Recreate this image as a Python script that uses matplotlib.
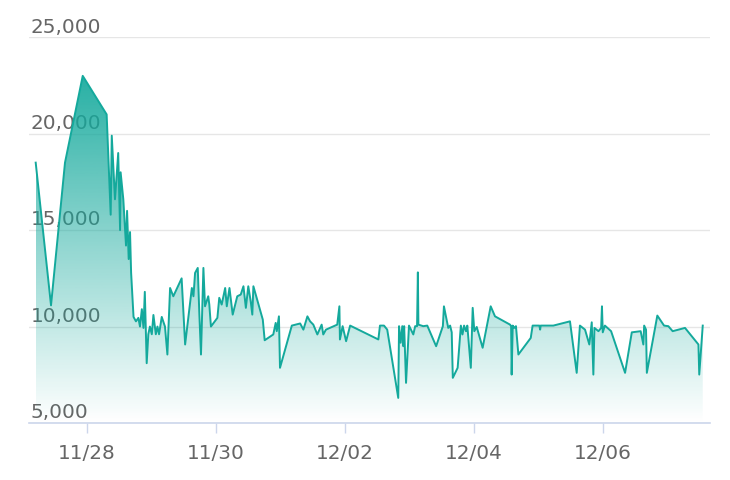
import numpy as np
import pandas as pd
import matplotlib
matplotlib.use("Agg")
import matplotlib.pyplot as plt
import matplotlib.dates as mdates

# hours since 2023-11-27 00:00, and the value at that time
hours = [4.9, 10.6, 15.8, 22.4, 31.3, 32.8, 33.2, 34.4, 35.6, 36.3, 36.5, 37.5,
         38.5, 38.9, 39.5, 40.0, 40.4, 41.3, 42.2, 43.1, 43.7, 44.4, 45.0, 45.5,
         46.2, 46.8, 47.4, 48.1, 48.7, 49.6, 50.2, 50.8, 51.8, 53.0, 53.9, 54.9,
         56.1, 59.2, 60.5, 63.0, 63.6, 64.2, 65.2, 65.8, 66.4, 67.3, 67.9, 69.1,
         69.5, 70.1, 72.5, 73.2, 74.1, 75.4, 76.0, 77.0, 78.2, 79.9, 81.2, 82.2,
         83.1, 84.0, 84.9, 85.5, 85.9, 89.4, 90.1, 93.3, 94.2, 94.6, 95.4, 95.8,
         100.2, 103.3, 104.5, 106.0, 107.0, 108.2, 109.7, 111.3, 111.9, 112.9,
         117.1, 117.9, 118.1, 119.1, 120.4, 121.9, 132.4, 133.0, 134.5, 135.7,
         139.8, 140.1, 140.7, 141.3, 141.7, 142.0, 142.7, 143.8, 145.4, 146.1,
         146.8, 147.1, 147.3, 149.1, 150.6, 153.9, 156.4, 156.8, 158.4, 159.1,
         159.7, 160.1, 161.9, 163.1, 163.7, 164.3, 165.0, 165.5, 166.8, 167.5,
         168.1, 169.0, 171.2, 174.2, 175.8, 181.4, 181.8, 182.0, 182.4, 183.0,
         183.6, 184.5, 189.1, 189.8, 192.3, 192.6, 192.8, 197.5, 203.7, 206.2,
         207.4, 209.3, 210.9, 211.8, 212.4, 212.8, 214.3, 215.3, 215.6, 215.9,
         216.7, 219.0, 224.2, 226.7, 230.0, 231.0, 231.3, 232.0, 232.3, 236.2,
         238.7, 240.3, 241.9, 246.5, 251.5, 251.8, 253.1]
values = [18500, 11100, 18500, 23000, 21000, 15800, 19900, 16600, 19000, 15000,
          18000, 16600, 14200, 16000, 13500, 14900, 12800, 10500, 10270, 10450,
          10000, 10900, 9930, 11800, 8100, 9600, 10000, 9600, 10600, 9600, 10000,
          9600, 10500, 10000, 8550, 12000, 11570, 12500, 9070, 12000, 11570, 12780,
          13040, 10620, 8550, 13040, 11050, 11570, 11140, 10000, 10450, 11490,
          11140, 12000, 11050, 12000, 10620, 11570, 11660, 12090, 10970, 12090,
          11310, 10620, 12090, 10360, 9290, 9590, 10190, 9760, 10530, 7860,
          10050, 10160, 9840, 10530, 10270, 10100, 9590, 10100, 9590, 9840,
          10100, 11050, 9330, 10020, 9240, 10050, 9330, 10050, 10050, 9840,
          6300, 10020, 9160, 10020, 8980, 10020, 7080, 10050, 9590, 10020,
          10020, 12810, 10100, 10020, 10050, 8980, 10020, 11050, 9930, 10050,
          9700, 7340, 7860, 10050, 9590, 10050, 9760, 10050, 7860, 10970,
          9760, 9980, 8900, 11050, 10530, 10100, 10020, 7510, 10050, 9930,
          10020, 8550, 9410, 10050, 10050, 9840, 10050, 10050, 10270, 7600,
          10050, 9840, 9070, 10220, 7510, 9930, 9760, 9930, 11050, 9700,
          10050, 9760, 7600, 9700, 9760, 9070, 10050, 9840, 7600, 10570,
          10050, 10020, 9760, 9930, 9070, 7510, 10050]
y_ticks = [5000, 10000, 15000, 20000, 25000]
x_tick_days = ["2023-11-28", "2023-11-30", "2023-12-02", "2023-12-04", "2023-12-06"]

line_color = "#14a99c"
label_color = "#666666"
axis_color = "#ccd6eb"

times = pd.Timestamp("2023-11-27") + pd.to_timedelta(hours, unit="h")
xs = mdates.date2num(times.to_pydatetime())
ys = np.array(values, dtype=float)

fig = plt.figure(figsize=(7.3, 4.8), dpi=100)
ax = fig.add_axes([0.0397, 0.1188, 0.9329, 0.8035])
ax.set_xlim(mdates.date2num(pd.Timestamp("2023-11-27 02:24").to_pydatetime()),
            mdates.date2num(pd.Timestamp("2023-12-07 15:48").to_pydatetime()))
ax.set_ylim(5000, 25000)

# gradient area under the line
poly = ax.fill_between(xs, ys, 5000, facecolor="none", edgecolor="none")
grad = np.zeros((256, 1, 4))
grad[:, 0, :3] = matplotlib.colors.to_rgb(line_color)
grad[:, 0, 3] = np.linspace(0.0, 0.92, 256)
im = ax.imshow(grad, aspect="auto", origin="lower",
               extent=[xs.min(), xs.max(), 5000, ys.max()], zorder=2)
im.set_clip_path(poly.get_paths()[0], transform=ax.transData)
ax.plot(xs, ys, color=line_color, lw=1.4, zorder=3)

# grid and axes
ax.set_yticks(y_ticks)
ax.yaxis.grid(True, color="#e6e6e6", lw=1)
ax.set_axisbelow(True)
ax.tick_params(axis="y", length=0, labelleft=False)
for v in y_ticks:
    ax.annotate(f"{v:,}", xy=(0, v), xycoords=ax.get_yaxis_transform(),
                xytext=(1, 0.5), textcoords="offset points",
                ha="left", va="bottom", fontsize=14.4, color=label_color, zorder=1)

ax.set_xticks(mdates.date2num(pd.to_datetime(x_tick_days).to_pydatetime()))
ax.xaxis.set_major_formatter(mdates.DateFormatter("%m/%d"))
ax.tick_params(axis="x", length=7.2, width=1, color=axis_color, pad=8,
               labelsize=14.4, labelcolor=label_color)

for s in ["left", "right", "top"]:
    ax.spines[s].set_visible(False)
ax.spines["bottom"].set_color(axis_color)
ax.spines["bottom"].set_linewidth(1.2)

fig.savefig("out.png", dpi=100)
